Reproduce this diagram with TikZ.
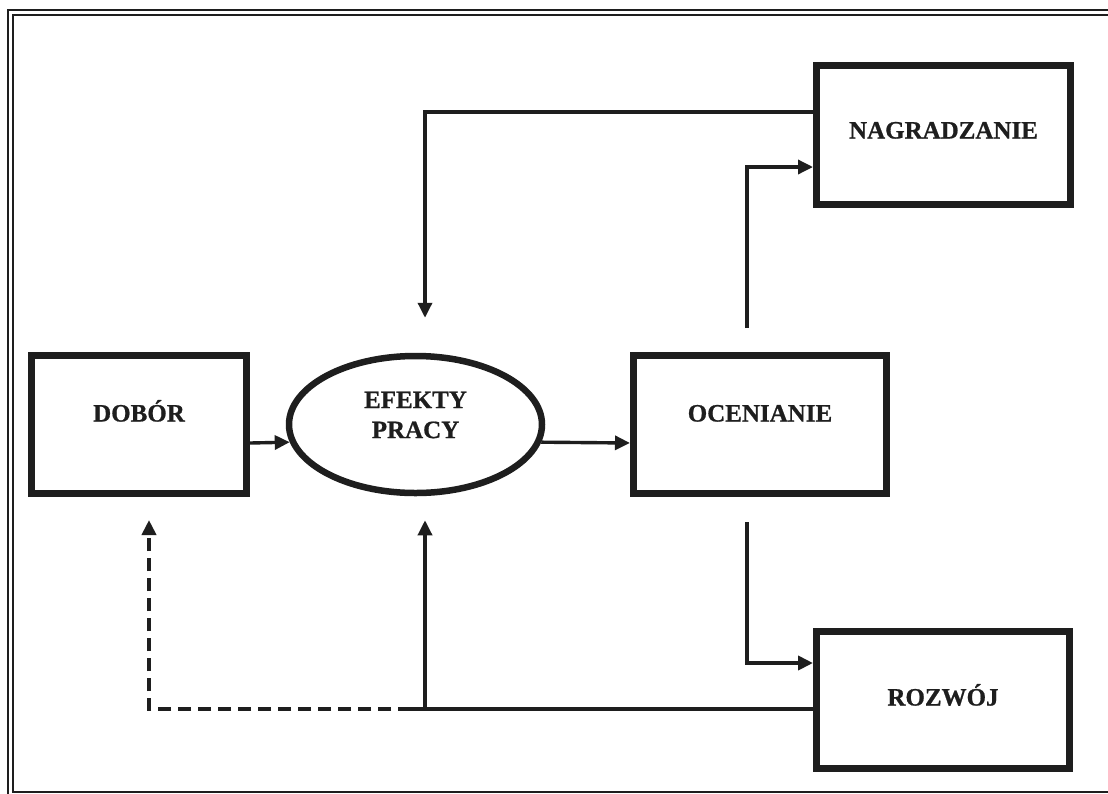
\documentclass[tikz,border=0pt]{standalone}
\usepackage{fontspec}
\setmainfont{Liberation Serif}[BoldFeatures={FakeBold=0.8}]
\usetikzlibrary{arrows.meta,shapes.geometric}
\definecolor{ink}{HTML}{1E1E1E}
\begin{document}
\begin{tikzpicture}[x=1pt,y=-1pt,
  frame/.style={draw=ink, line width=1.8pt},
  box/.style={draw=ink, line width=7pt, rectangle, inner sep=0pt},
  oval/.style={draw=ink, line width=6.5pt, ellipse, inner sep=0pt},
  txt/.style={font=\fontsize{25}{30}\selectfont\bfseries, text=ink, inner sep=0pt, text height=17pt, text depth=0pt},
  otxt/.style={font=\fontsize{25}{30}\selectfont\bfseries, text=ink, inner sep=0pt, align=center},
  conn/.style={draw=ink, line width=3.4pt},
  tip/.style={-{Triangle[length=15pt,width=14pt]}},
  dashline/.style={dash pattern=on 13pt off 7pt}
]
\useasboundingbox (0,0) rectangle (1108,793);
\fill[white] (0,0) rectangle (1108,793);
% double frame
\draw[frame] (1120,10) -- (8,10) -- (8,800);
\draw[frame] (1120,15) -- (13,15) -- (13,792) -- (1120,792);

% nodes
\node[box, minimum width=215pt, minimum height=138pt,
      label={[txt, yshift=11.5pt]center:DOBÓR}] (dobor) at (139,424.5) {};
\node[oval, minimum width=253pt, minimum height=137pt,
      label={[otxt, yshift=9.5pt]center:{EFEKTY\\PRACY}}] (efekty) at (415.5,424.5) {};
\node[box, minimum width=253pt, minimum height=138pt,
      label={[txt, yshift=11.5pt]center:OCENIANIE}] (ocen) at (760,424.5) {};
\node[box, minimum width=254pt, minimum height=139pt,
      label={[txt, yshift=5pt]center:NAGRADZANIE}] (nagr) at (943.5,135) {};
\node[box, minimum width=253pt, minimum height=137pt,
      label={[txt, yshift=3pt]center:ROZWÓJ}] (rozwoj) at (943,700) {};

% connectors
\draw[conn, tip] ([yshift=-18.5pt]dobor.east) -- (efekty.188);
\draw[conn, tip] (efekty.352) -- ([yshift=-18.5pt]ocen.west);
\draw[conn, tip] ([xshift=-13pt,yshift=24pt]ocen.north) |- ([yshift=-32pt]nagr.west);
\draw[conn, tip] ([yshift=23pt]nagr.west) -| ([xshift=9.5pt,yshift=35pt]efekty.north);
\draw[conn, line width=4.8pt, tip] ([xshift=-13pt,yshift=-25pt]ocen.south) |- ([yshift=37pt]rozwoj.west);

\coordinate (split) at (411,709);
\coordinate (join) at (425,709);
\draw[conn, line width=4.2pt] ([yshift=-9pt]rozwoj.west) -- (split);
\draw[conn, tip] (join) -- ([xshift=9.5pt,yshift=-24pt]efekty.south);
\draw[conn, line width=4.5pt, dashline, tip] (split) -| ([xshift=10pt,yshift=-23pt]dobor.south);
\end{tikzpicture}
\end{document}
